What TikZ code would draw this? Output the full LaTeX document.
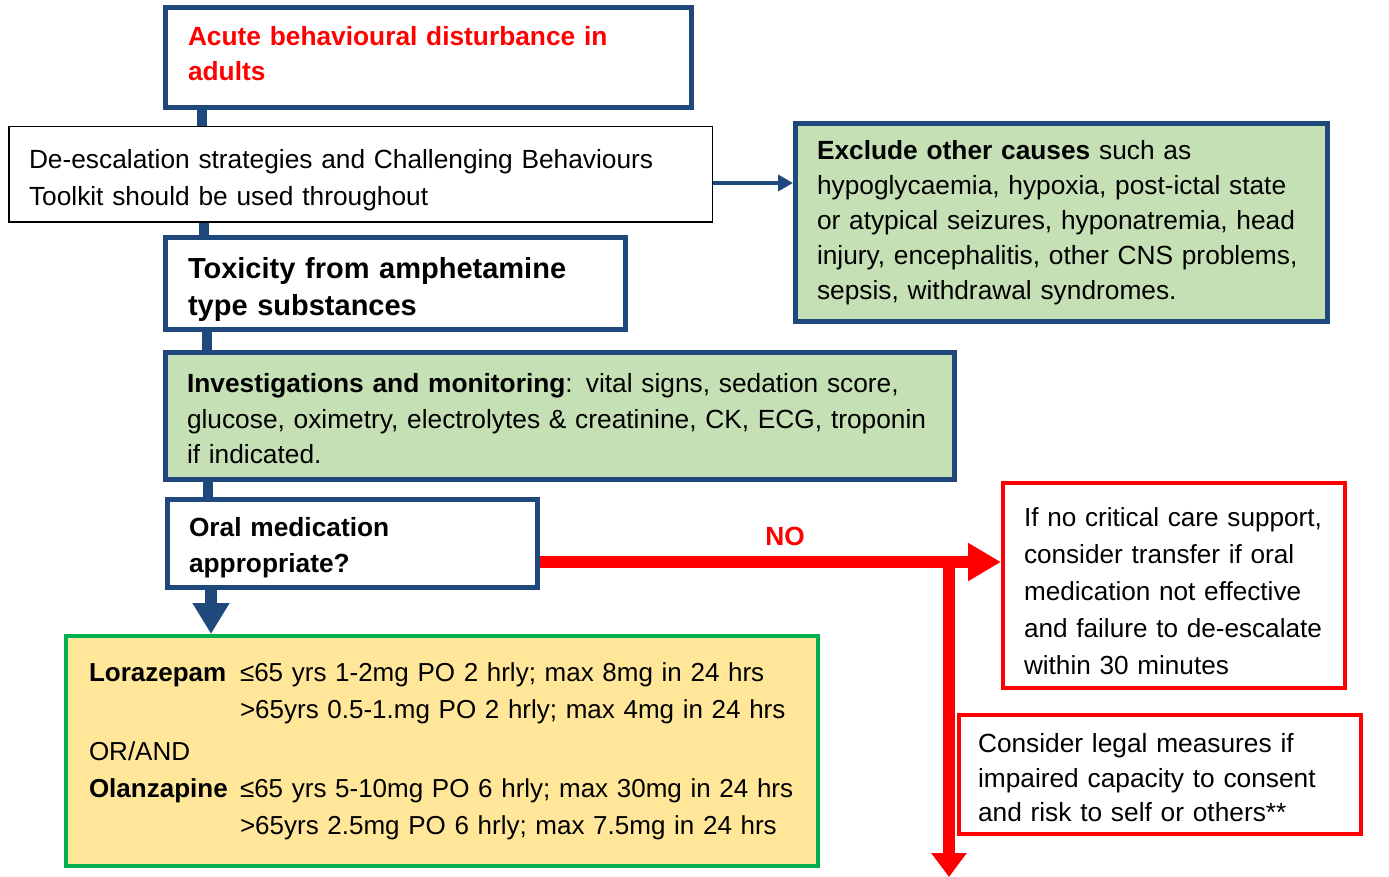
\documentclass[tikz,border=0pt]{standalone}
\usepackage{fontspec}
\setmainfont{Liberation Sans}
\usetikzlibrary{arrows.meta,calc}
\definecolor{navy}{HTML}{1F497D}
\definecolor{lgreen}{HTML}{C5E0B4}
\definecolor{lyellow}{HTML}{FFE699}
\definecolor{dgreen}{HTML}{00B050}
\definecolor{bred}{HTML}{FF0000}
\newcommand{\boxlines}[2][0pt]{\raisebox{-#1}[\height][\depth]{\begin{tabular}{@{}l@{}}#2\end{tabular}}}
\begin{document}
\begin{tikzpicture}[x=1pt,y=-1pt,
  box/.style={anchor=north west, inner ysep=0pt, align=left},
  navybox/.style={box, draw=navy, line width=5pt},
  redbox/.style={box, draw=bred, line width=4pt, fill=white},
  body/.style={font=\fontsize{26.3}{#1}\selectfont},
  navyconn/.style={draw=navy, line width=10pt},
  navyarrow/.style={draw=navy, line width=#1, -{Triangle[length=31pt,width=35pt]}},
  redarrow/.style={draw=bred, line width=12pt}
]
\useasboundingbox (0,0) rectangle (1389,877);

% boxes
\node[navybox, fill=white, inner xsep=22.5pt, text width=481pt, minimum height=100pt,
      font=\fontsize{26.3}{35}\selectfont\bfseries, text=bred] (title) at (163,5)
  {\boxlines[-1pt]{Acute behavioural disturbance in\\adults}};

\node[box, draw=black, line width=1.5pt, fill=white, inner xsep=20.25pt, text width=663pt,
      minimum height=95.5pt, body=37] (deesc) at (8,126)
  {\boxlines[5pt]{De-escalation strategies and Challenging Behaviours\\Toolkit should be used throughout}};

\node[navybox, fill=lgreen, inner xsep=21.5pt, text width=489pt, minimum height=198pt, body=35] (excl) at (793,121)
  {\boxlines{\textbf{Exclude other causes} such as\\hypoglycaemia, hypoxia, post-ictal state\\or atypical seizures, hyponatremia, head\\injury, encephalitis, other CNS problems,\\sepsis, withdrawal syndromes.}};

\node[navybox, fill=white, inner xsep=22.5pt, text width=415pt, minimum height=92pt,
      font=\fontsize{29}{37}\selectfont\bfseries] (tox) at (163,235)
  {\boxlines[6pt]{Toxicity from amphetamine\\type substances}};

\node[navybox, fill=lgreen, inner xsep=21.5pt, text width=746pt, minimum height=127pt, body=35.5] (inv) at (163,350)
  {\boxlines[5pt]{\textbf{Investigations and monitoring}: vital signs, sedation score,\\glucose, oximetry, electrolytes \& creatinine, CK, ECG, troponin\\if indicated.}};

\node[navybox, fill=white, inner xsep=21.5pt, text width=327pt, minimum height=88pt,
      font=\fontsize{26.3}{36}\selectfont\bfseries] (oral) at (165,497)
  {\boxlines[4pt]{Oral medication\\appropriate?}};

\node[box, draw=dgreen, line width=4pt, fill=lyellow, inner xsep=23pt, text width=706pt,
      minimum height=230pt, font=\fontsize{26}{37}\selectfont] (drug) at (64,634)
  {\begin{tabular}{@{}p{151pt}@{}l@{}}
   \textbf{Lorazepam} & ≤65 yrs 1-2mg PO 2 hrly; max 8mg in 24 hrs\\
   & >65yrs 0.5-1.mg PO 2 hrly; max 4mg in 24 hrs\\[5pt]
   \multicolumn{2}{@{}l@{}}{OR/AND}\\
   \textbf{Olanzapine} & ≤65 yrs 5-10mg PO 6 hrly; max 30mg in 24 hrs\\
   & >65yrs 2.5mg PO 6 hrly; max 7.5mg in 24 hrs
   \end{tabular}};

\node[redbox, inner xsep=21pt, text width=300pt, minimum height=205pt,
      font=\fontsize{26.15}{37}\selectfont] (crit) at (1001,481)
  {\boxlines[8pt]{If no critical care support,\\consider transfer if oral\\medication not effective\\and failure to de-escalate\\within 30 minutes}};

\node[redbox, inner xsep=19pt, text width=364pt, minimum height=119pt, body=34.5] (legal) at (957,713)
  {\boxlines[6pt]{Consider legal measures if\\impaired capacity to consent\\and risk to self or others**}};

% navy connectors
\draw[navyconn] ([xshift=39pt]title.south west) -- ([xshift=39pt]title.south west |- deesc.north);
\draw[navyconn] ([xshift=196pt]deesc.south west) -- ([xshift=196pt]deesc.south west |- tox.north);
\draw[navyconn] ([xshift=44pt]tox.south west) -- ([xshift=44pt]tox.south west |- inv.north);
\draw[navyconn] ([xshift=45pt]inv.south west) -- ([xshift=45pt]inv.south west |- oral.north);
\draw[navyarrow=12pt] ([xshift=46pt]oral.south west) -- ([xshift=46pt]oral.south west |- drug.north);
\coordinate (da) at ($(deesc.east)+(0,8.5)$);
\draw[draw=navy, line width=4pt, -{Triangle[length=15pt,width=16pt]}] (da) -- (da -| excl.west);

% red connectors
\coordinate (noy) at ($(oral.east)+(0,18.5)$);
\coordinate (split) at ($(legal.west |- noy)+(-8,-6)$);
\coordinate (bottomend) at ($(legal.west |- drug.south)+(-8,9)$);
\draw[redarrow, -{Triangle[length=33pt,width=36pt]}] (noy) -- (noy -| crit.west);
\draw[redarrow, -{Triangle[length=24pt,width=34pt]}] (split) -- (bottomend);

\node[font=\fontsize{26.3}{32}\selectfont\bfseries, text=bred] (no) at (785,536) {NO};
\end{tikzpicture}
\end{document}
